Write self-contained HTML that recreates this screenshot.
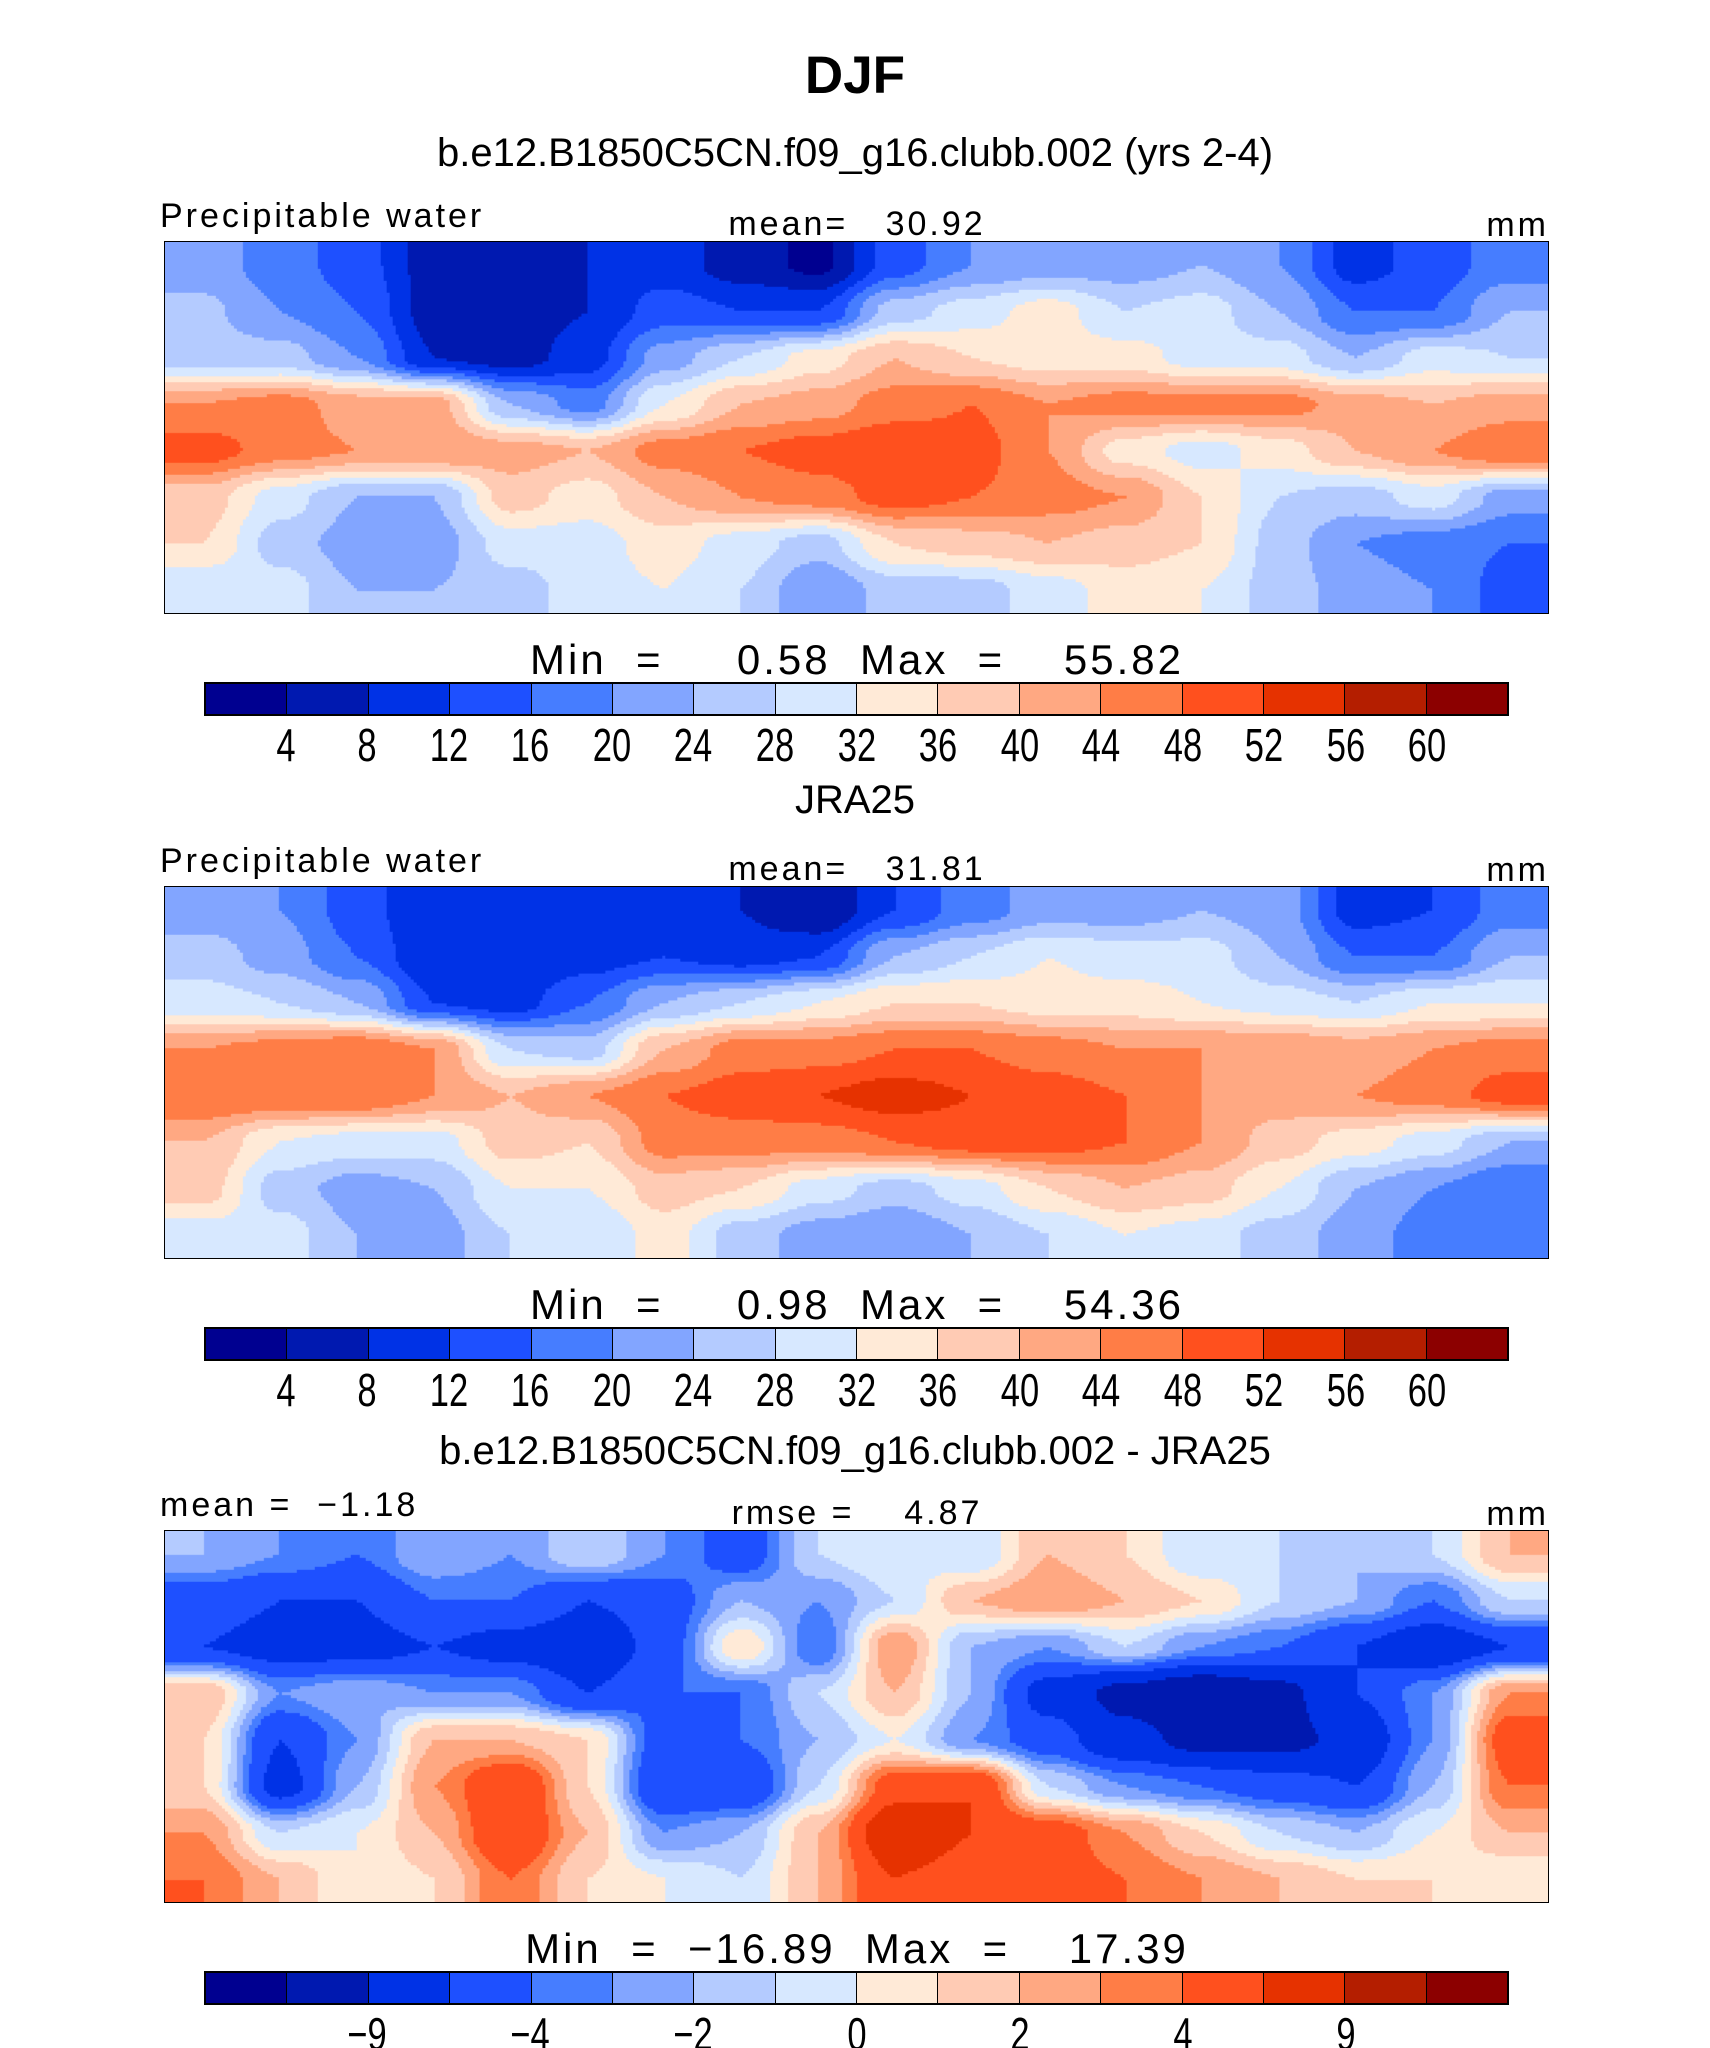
<!DOCTYPE html>
<html><head><meta charset="utf-8"><style>
body{margin:0;background:#fff}
#root{position:relative;width:1710px;height:2048px;overflow:hidden;background:#fff;font-family:"Liberation Sans",sans-serif}
.t{position:absolute;white-space:pre;line-height:1}
.c{transform:translateX(-50%)}
canvas{position:absolute;border:1.5px solid #000;box-sizing:border-box}
.cb{position:absolute;border:2px solid #000;box-sizing:border-box;display:flex}
.cb div{flex:1;border-right:1.5px solid #000}
.cb div:last-child{border-right:none}
</style></head><body>
<div id="root">
<div class="t c" style="left:855px;top:49px;font-size:53px;font-weight:bold">DJF</div>
</div>
<script>
const colors=["#000090","#0019B0","#0032E6","#1E50FF","#467DFF","#82A5FF","#B4CBFF","#D7E8FF","#FFEAD7","#FFCBB4","#FFA882","#FF7D46","#FF501E","#E63200","#B41E00","#8C0000"];
const levelsPW=[4,8,12,16,20,24,28,32,36,40,44,48,52,56,60];
const levelsDiff=[-12,-9,-6,-4,-3,-2,-1,0,1,2,3,4,6,9,12];
const tickLabelsPW=["4","8","12","16","20","24","28","32","36","40","44","48","52","56","60"];
const tickLabelsDiff=["","\u22129","","\u22124","","\u22122","","0","","2","","4","","9",""];
const modelField=[
[22,18,14,6,6,8,10,6,3,14,20,22,22,24,20,10,14,18],
[25,20,16,6,6,8,14,12,12,26,30,34,28,30,24,16,16,24],
[26,26,20,8,6,10,22,28,34,40,36,34,34,30,30,24,30,28],
[44,46,42,42,24,18,32,40,42,46,48,44,46,46,46,42,40,42],
[50,46,44,44,42,40,46,48,50,52,50,44,34,30,34,40,44,48],
[38,30,24,24,38,34,40,44,46,50,48,46,44,36,28,26,30,22],
[36,26,22,22,30,30,34,30,26,36,38,40,38,36,26,20,18,16],
[28,30,24,24,26,30,32,28,20,26,26,30,34,32,26,22,20,14]];
const obsField=[
[22,20,14,8,8,8,10,8,4,12,18,22,22,24,22,10,12,18],
[26,22,16,8,8,10,12,10,12,24,28,32,30,30,24,16,16,24],
[30,28,24,12,10,16,24,28,32,36,36,34,34,32,30,28,32,32],
[44,46,48,44,28,26,40,46,46,48,48,46,44,44,44,42,44,46],
[48,48,48,44,40,44,48,50,52,54,52,50,48,44,42,44,46,50],
[40,32,30,30,38,36,46,46,46,48,50,50,48,44,38,34,30,24],
[38,26,22,24,32,32,38,36,30,26,30,36,40,38,32,24,20,16],
[30,30,24,22,28,28,34,26,22,20,24,28,32,30,26,22,18,16]];
const diffField=[
[-2,-3,-4,-2,-3,-1,-3,-5,-1,0,-1,2,1,-1,-1,-2,-1,2],
[-5,-6,-6,-4,-4,-6,-5,-2,-3,-1,2,3,2,1,-1,-2,-4,-1],
[-6,-7,-7,-6,-7,-8,-5,1,-4,3,-2,-3,-1,-3,-4,-6,-8,-6],
[2,-3,-2,-3,-3,-6,-4,-4,-1,2,-2,-7,-10,-12,-10,-6,-3,3],
[1,-6,-3,2,2,1,-5,-4,-2,0,-3,-5,-8,-10,-10,-8,-3,5],
[1,-7,-2,3,6,1,-6,-6,-1,5,6,-1,-3,-4,-5,-6,-2,4],
[3,-1,0,2,6,2,-3,-2,2,8,6,5,3,1,-1,-2,0,2],
[4,2,0,1,4,1,0,-1,2,6,5,5,4,3,2,1,1,0]];

const root=document.getElementById('root');
function colorFor(v,levels){let i=0;while(i<levels.length&&v>=levels[i])i++;return colors[i];}
function drawMap(field,levels,top,name){
  const L=164,W=1385,H=373;
  const cv=document.createElement('canvas');cv.width=W;cv.height=H;
  cv.style.left=L+'px';cv.style.top=top+'px';cv.style.width=W+'px';cv.style.height=H+'px';
  
  
  root.appendChild(cv);
  const ctx=cv.getContext('2d');
  const R=field.length,C=field[0].length,s=3;
  for(let y=0;y<H;y+=s){for(let x=0;x<W;x+=s){
    let fx=(x+s/2)/W*C-0.5,fy=(y+s/2)/H*R-0.5;
    fx=Math.max(0,Math.min(C-1,fx));fy=Math.max(0,Math.min(R-1,fy));
    const x0=Math.floor(fx),y0=Math.floor(fy),x1=Math.min(C-1,x0+1),y1=Math.min(R-1,y0+1);
    let ax=fx-x0,ay=fy-y0;
    ax=ax*ax*(3-2*ax);ay=ay*ay*(3-2*ay);
    const v=(field[y0][x0]*(1-ax)+field[y0][x1]*ax)*(1-ay)+(field[y1][x0]*(1-ax)+field[y1][x1]*ax)*ay;
    ctx.fillStyle=colorFor(v,levels);ctx.fillRect(x,y,s,s);
  }}
}
function drawBar(top,labels,name){
  const bar=document.createElement('div');bar.className='cb';
  bar.style.left='204px';bar.style.top=top+'px';bar.style.width='1305px';bar.style.height='34px';
  
  
  colors.forEach((c,i)=>{const b=document.createElement('div');b.style.background=c;
    
    
    bar.appendChild(b);});
  root.appendChild(bar);
  labels.forEach((l,i)=>{if(!l)return;const x=204+(i+1)*1305/16;
    const d=document.createElement('div');d.className='t';d.textContent=l;
    d.style.left=x+'px';d.style.top=(top+40)+'px';d.style.fontSize='46px';
    d.style.transform='translateX(-50%) scaleX(0.75)';
    
    
    root.appendChild(d);});
}
function thin(s,x,y,size,name,align){
  const d=document.createElement('div');d.className='t';d.textContent=s;
  d.style.fontSize=size+'px';d.style.top=y+'px';d.style.letterSpacing='3px';
  if(align==='c'){d.style.left=x+'px';d.style.transform='translateX(-50%)';}
  else if(align==='r'){d.style.right=(1710-x)+'px';}
  else{d.style.left=x+'px';}
  
  
  root.appendChild(d);
}
function title(s,y,name){
  const d=document.createElement('div');d.className='t c';d.textContent=s;
  d.style.left='855px';d.style.top=y+'px';d.style.fontSize='40px';
  
  
  root.appendChild(d);
}
function panel(o){
  title(o.title,o.titleY,o.key+'-title');
  thin(o.left,160,o.mapTop-42,34,o.key+'-left-label','l');
  thin(o.mid,857,o.mapTop-34,34,o.key+'-stat-label','c');
  thin('mm',1549,o.mapTop-33,34,o.key+'-units','r');
  drawMap(o.field,o.levels,o.mapTop,o.key+'-map');
  thin(o.minmax,857,o.mapTop+398,42,o.key+'-minmax','c');
  drawBar(o.mapTop+441,o.labels,o.key+'-colorbar');
}
panel({key:'model',title:'b.e12.B1850C5CN.f09_g16.clubb.002 (yrs 2-4)',titleY:133,mapTop:241,left:'Precipitable water',mid:'mean=   30.92',minmax:'Min  =     0.58  Max  =    55.82',field:modelField,levels:levelsPW,labels:tickLabelsPW});
panel({key:'obs',title:'JRA25',titleY:780,mapTop:886,left:'Precipitable water',mid:'mean=   31.81',minmax:'Min  =     0.98  Max  =    54.36',field:obsField,levels:levelsPW,labels:tickLabelsPW});
panel({key:'diff',title:'b.e12.B1850C5CN.f09_g16.clubb.002 - JRA25',titleY:1431,mapTop:1530,left:'mean =  \u22121.18',mid:'rmse =    4.87',minmax:'Min  =  \u221216.89  Max  =    17.39',field:diffField,levels:levelsDiff,labels:tickLabelsDiff});
</script>
</body></html>
